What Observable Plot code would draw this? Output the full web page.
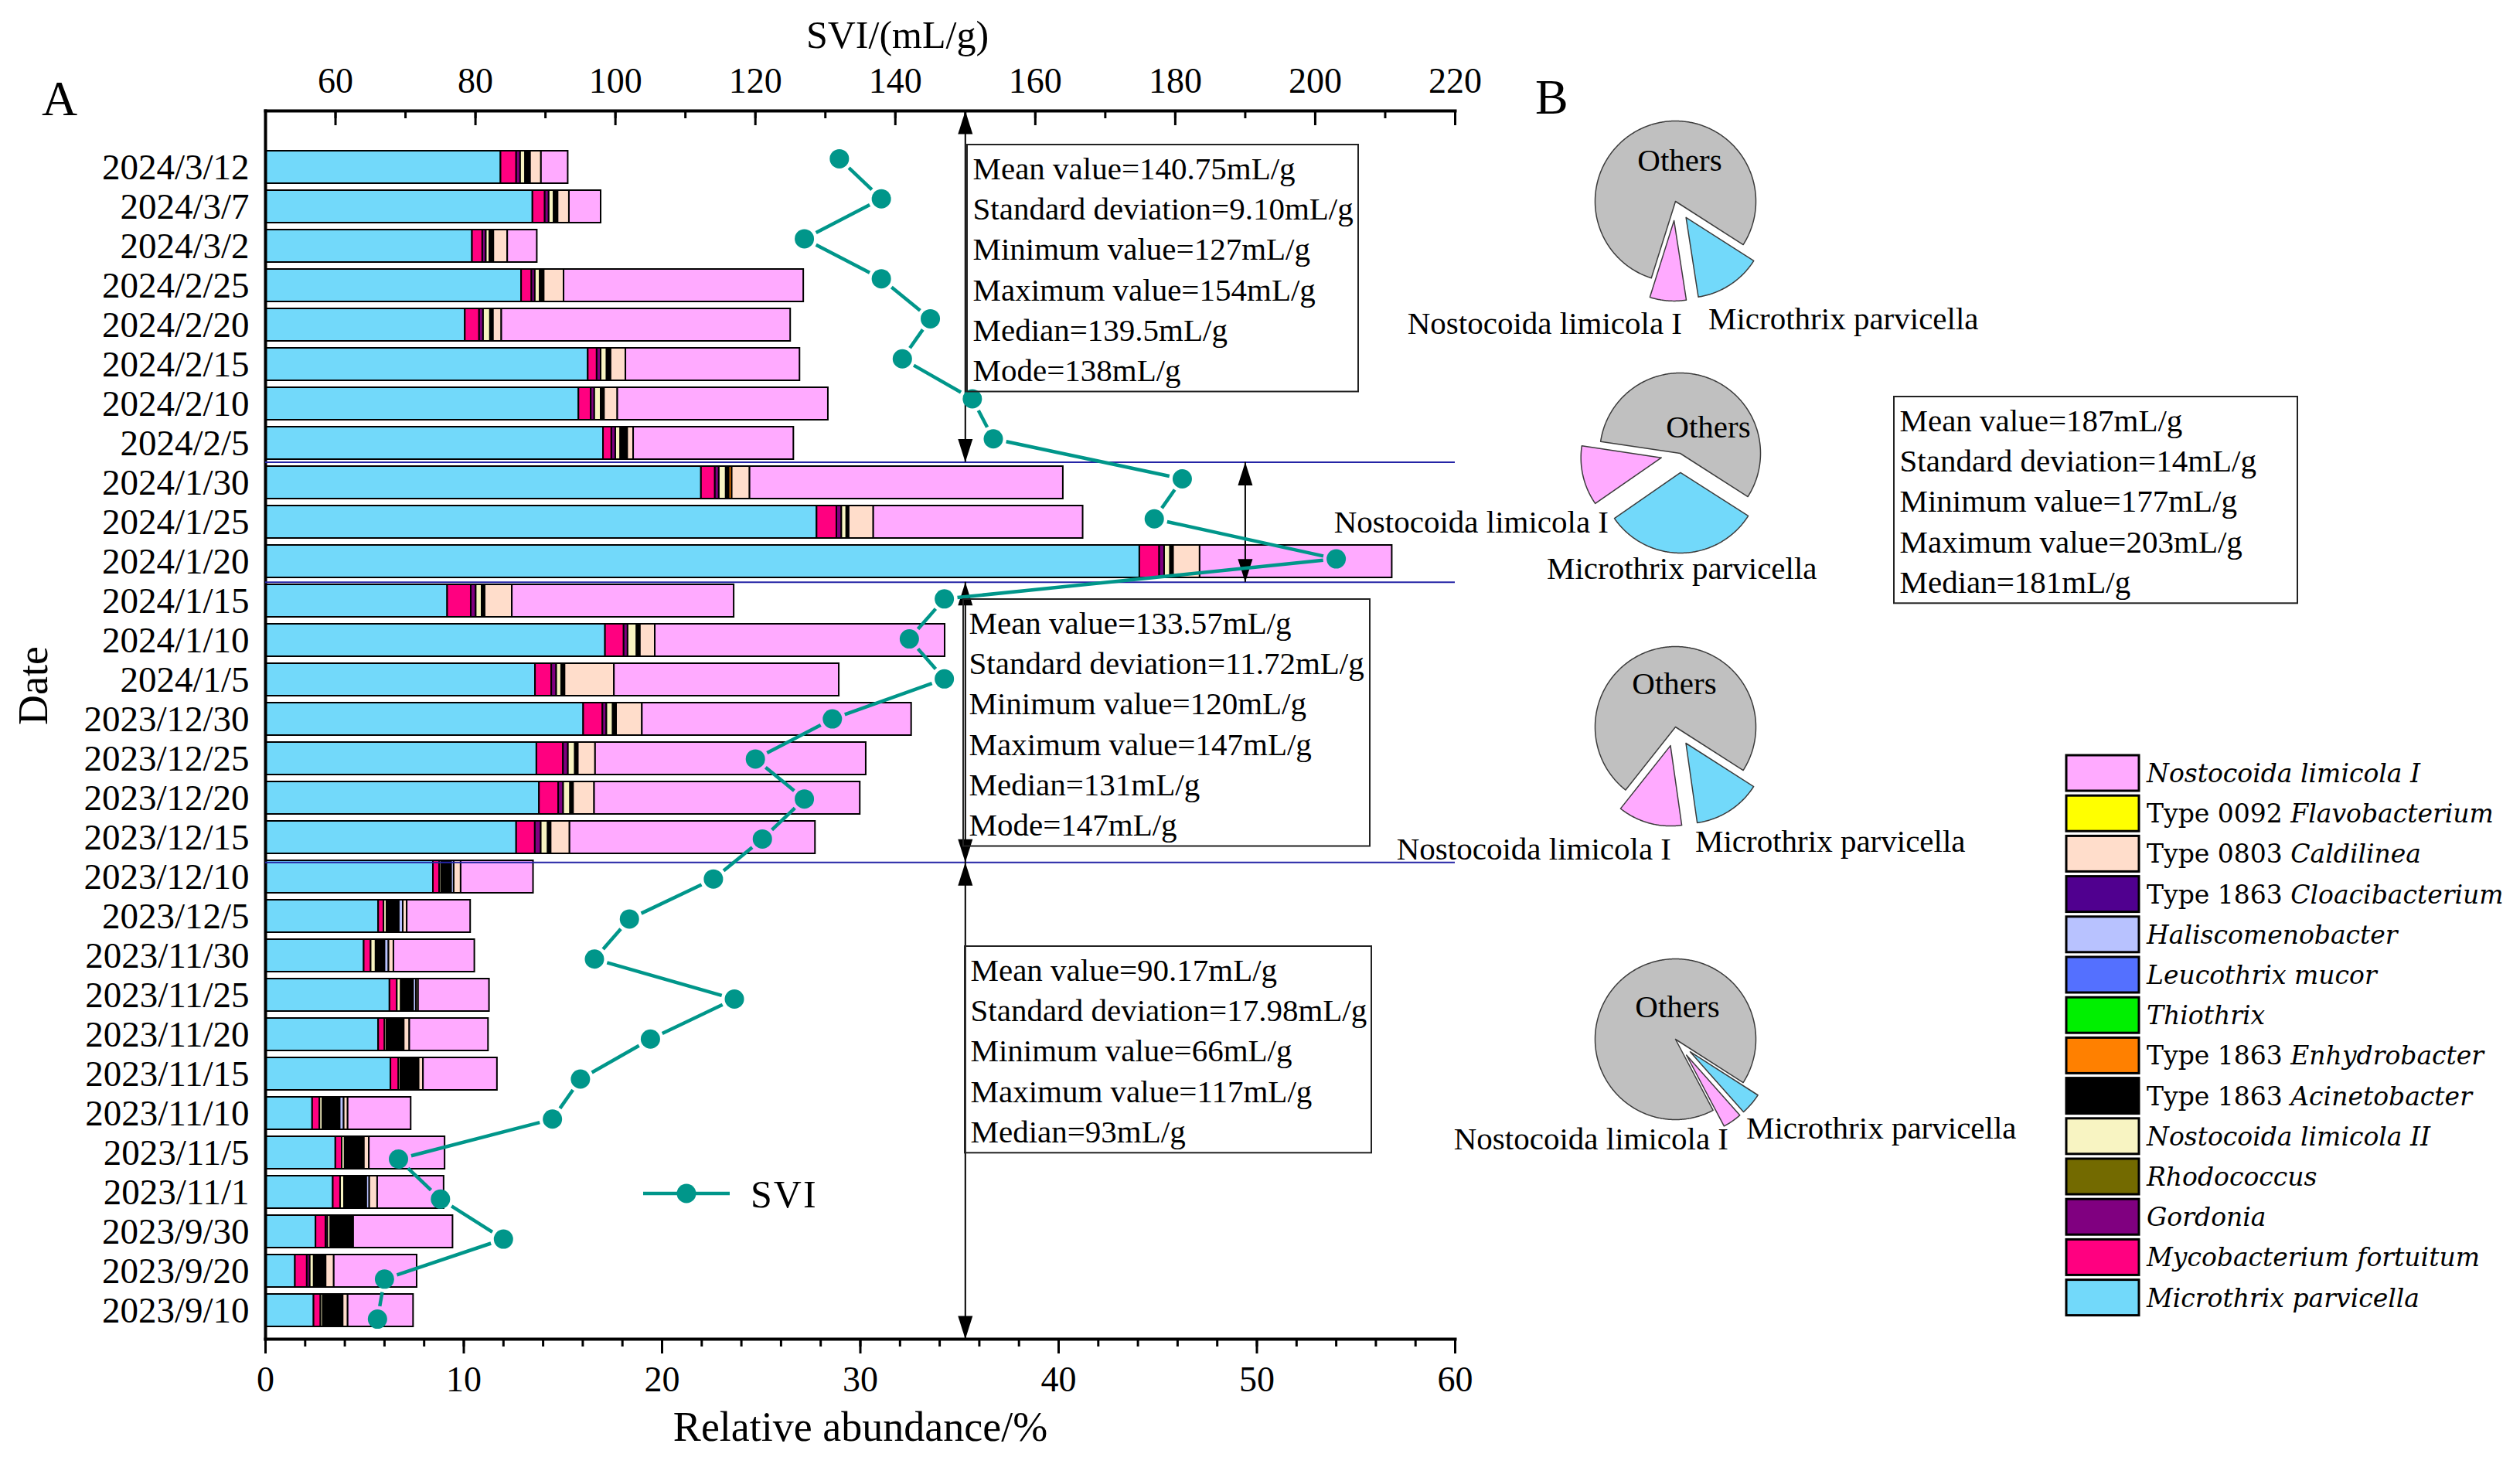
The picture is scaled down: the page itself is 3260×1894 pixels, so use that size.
<!DOCTYPE html>
<html>
<head>
<meta charset="utf-8">
<script src="https://cdn.jsdelivr.net/npm/d3@7"></script>
<script src="https://cdn.jsdelivr.net/npm/@observablehq/plot@0.6"></script>
<style>
  html, body { margin: 0; padding: 0; background: #fff; }
  #fig { position: relative; width: 3260px; height: 1894px; overflow: hidden; background: #fff; }
  #fig > svg { position: absolute; }
</style>
</head>
<body>
<div id="fig"></div>
<script>
// ------------------------------------------------------------------ data
const dates = ["2024/3/12","2024/3/7","2024/3/2","2024/2/25","2024/2/20","2024/2/15","2024/2/10","2024/2/5",
  "2024/1/30","2024/1/25","2024/1/20","2024/1/15","2024/1/10","2024/1/5","2023/12/30","2023/12/25","2023/12/20",
  "2023/12/15","2023/12/10","2023/12/5","2023/11/30","2023/11/25","2023/11/20","2023/11/15","2023/11/10",
  "2023/11/5","2023/11/1","2023/9/30","2023/9/20","2023/9/10"];

const microthrix     = [11.87,13.48,10.43,12.91,10.07,16.27,15.80,17.04,21.98,27.81,44.09,9.18,17.14,13.61,16.04,13.68,13.81,12.66,8.46,5.70,4.97,6.27,5.70,6.32,2.37,3.54,3.41,2.54,1.50,2.44];
const mycobacterium  = [0.79,0.62,0.52,0.52,0.72,0.45,0.62,0.42,0.70,1.00,1.00,1.19,0.94,0.82,0.97,1.34,0.97,0.94,0.32,0.27,0.35,0.37,0.32,0.40,0.37,0.32,0.37,0.50,0.60,0.35];
const gordonia       = [0.20,0.20,0.18,0.17,0.20,0.20,0.18,0.20,0.20,0.25,0.25,0.25,0.20,0.25,0.20,0.25,0.25,0.30,0,0,0,0,0,0,0,0,0,0.10,0.15,0];
const rhodococcus    = [0,0,0,0,0,0,0,0,0,0,0,0,0,0,0,0,0,0,0,0,0,0,0,0,0,0,0,0,0,0];
const nostocoidaII   = [0.25,0.25,0.18,0.25,0.35,0.30,0.32,0.25,0.35,0.25,0.30,0.30,0.45,0.25,0.32,0.35,0.35,0.35,0.10,0.15,0.25,0.20,0.10,0.10,0.15,0.15,0.20,0.15,0.20,0.12];
const acinetobacter  = [0.25,0.20,0.20,0.20,0.15,0.20,0.17,0.35,0.15,0.12,0.15,0.15,0.17,0.17,0.17,0.15,0.15,0.15,0.50,0.62,0.45,0.62,0.87,0.92,0.87,0.97,1.12,1.15,0.60,1.00];
const enhydrobacter  = [0,0,0,0,0,0,0,0,0.15,0,0,0,0,0,0,0,0,0,0,0,0,0,0,0,0,0,0,0,0,0];
const thiothrix      = [0,0,0,0,0,0,0,0,0,0,0,0,0,0,0,0,0,0,0,0,0,0,0,0,0,0,0,0,0,0];
const leucothrix     = [0,0,0,0,0,0,0,0,0,0,0,0,0,0,0,0,0,0,0,0,0,0,0,0,0,0,0,0,0,0];
const haliscomenobacter = [0,0,0,0,0,0,0,0,0,0,0,0,0,0,0,0,0,0,0.13,0.20,0.20,0.15,0,0,0.20,0,0.15,0,0,0];
const cloacibacterium = [0,0,0,0,0,0,0,0,0,0,0,0,0,0,0,0,0,0,0,0,0,0,0,0,0,0,0,0,0,0];
const caldilinea     = [0.55,0.57,0.70,1.00,0.42,0.75,0.67,0.30,0.90,1.24,1.34,1.37,0.75,2.49,1.30,0.87,1.06,0.95,0.35,0.20,0.25,0.10,0.28,0.22,0.20,0.25,0.40,0,0.41,0.25];
const flavobacterium = [0,0,0,0,0,0,0,0,0,0,0,0,0,0,0,0,0,0,0,0,0,0,0,0,0,0,0,0,0,0];
const nostocoidaI    = [1.35,1.60,1.49,12.09,14.57,8.78,10.62,8.08,15.80,10.56,9.69,11.19,14.62,11.34,13.58,13.65,13.40,12.38,3.65,3.20,4.08,3.58,3.97,3.73,3.18,3.82,3.35,5.01,4.18,3.30];

const svi = [132,138,127,138,145,141,151,154,181,177,203,147,142,147,131,120,127,121,114,102,97,117,105,95,91,69,75,84,67,66];

// stacking order left -> right (legend lists them in reverse)
const speciesNames = ["Microthrix parvicella","Mycobacterium fortuitum","Gordonia","Rhodococcus","Nostocoida limicola II",
  "Type 1863 Acinetobacter","Type 1863 Enhydrobacter","Thiothrix","Leucothrix mucor","Haliscomenobacter",
  "Type 1863 Cloacibacterium","Type 0803 Caldilinea","Type 0092 Flavobacterium","Nostocoida limicola I"];
const speciesColors = ["#72D9FA","#FF0080","#800080","#736A00","#F8F4C2","#000000","#FF8000","#00F000","#5470FF",
  "#B8C2FF","#50008F","#FFDDCB","#FFFF00","#FFAAFF"];
const speciesSeries = [microthrix, mycobacterium, gordonia, rhodococcus, nostocoidaII, acinetobacter, enhydrobacter,
  thiothrix, leucothrix, haliscomenobacter, cloacibacterium, caldilinea, flavobacterium, nostocoidaI];

const abundanceTicks = [0,10,20,30,40,50,60];
const abundanceMinorTicks = d3.range(0, 61, 2);
const sviTicks = [60,80,100,120,140,160,180,200,220];
const sviMinorTicks = d3.range(50, 221, 10);

// pies: mean relative abundance (%) in each period
const pieMicrothrix  = [13.5, 31.3, 13.7, 4.4];
const pieNostocoidaI = [7.3, 12.0, 12.9, 3.8];
const pieOthers      = [79.2, 56.7, 73.4, 91.8];

const statsPeriod1 = ["Mean value=140.75mL/g","Standard deviation=9.10mL/g","Minimum value=127mL/g","Maximum value=154mL/g","Median=139.5mL/g","Mode=138mL/g"];
const statsPeriod2 = ["Mean value=187mL/g","Standard deviation=14mL/g","Minimum value=177mL/g","Maximum value=203mL/g","Median=181mL/g"];
const statsPeriod3 = ["Mean value=133.57mL/g","Standard deviation=11.72mL/g","Minimum value=120mL/g","Maximum value=147mL/g","Median=131mL/g","Mode=147mL/g"];
const statsPeriod4 = ["Mean value=90.17mL/g","Standard deviation=17.98mL/g","Minimum value=66mL/g","Maximum value=117mL/g","Median=93mL/g"];

// ------------------------------------------------------------------ layout
const FIG_H = 1894, PLOT_W = 1900;
const FRAME = {top: 143, bottom: 1732, left: 343, right: 1882};
const BAND_RANGE = [179, 1732];
const PAD_IN = 0.17, PAD_OUT = 0.085;
const FONT = "'Liberation Serif', 'Times New Roman', serif";
const TEAL = "#00968A";
const plotStyle = `font-family: ${FONT}; font-size: 46px; color: black; background: transparent; overflow: visible; position: absolute; left: 0; top: 0; max-width: none;`;
const fig = document.getElementById("fig");

const tidy = [];
dates.forEach((d, i) => speciesSeries.forEach((arr, s) => {
  if (arr[i] > 0) tidy.push({date: d, species: speciesNames[s], value: arr[i]});
}));

// ------------------------------------------------------------------ bars
const barsPlot = Plot.plot({
  width: PLOT_W, height: FIG_H,
  marginTop: FRAME.top, marginBottom: FIG_H - FRAME.bottom, marginLeft: FRAME.left, marginRight: PLOT_W - FRAME.right,
  style: plotStyle,
  x: {domain: [0, 60]},
  y: {type: "band", domain: dates, range: BAND_RANGE, paddingInner: PAD_IN, paddingOuter: PAD_OUT},
  color: {domain: speciesNames, range: speciesColors},
  marks: [
    Plot.barX(tidy, {x: "value", y: "date", fill: "species", stroke: "black", strokeWidth: 2}),
    Plot.axisX(abundanceMinorTicks, {anchor: "bottom", tickSize: 10, strokeWidth: 3, tickFormat: () => "", label: null}),
    Plot.axisX(abundanceTicks, {anchor: "bottom", tickSize: 19, strokeWidth: 3, tickPadding: 16, label: null}),
    Plot.axisY(dates, {anchor: "left", tickSize: 0, tickPadding: 21, fontSize: 47, label: null}),
    Plot.frame({anchor: "left", strokeWidth: 4}),
    Plot.frame({anchor: "bottom", strokeWidth: 4}),
    Plot.text(["Relative abundance/%"], {text: d => d, frameAnchor: "bottom", lineAnchor: "middle", dy: 114, fontSize: 54}),
    Plot.text(["Date"], {text: d => d, frameAnchor: "left", lineAnchor: "middle", dx: -300, rotate: -90, fontSize: 54})
  ]
});
fig.appendChild(barsPlot);

// ------------------------------------------------------------------ SVI overlay (second x scale)
const nRows = dates.length;
const step = (BAND_RANGE[1] - BAND_RANGE[0]) / (nRows - PAD_IN + 2 * PAD_OUT);
const c0 = BAND_RANGE[0] + PAD_OUT * step + (1 - PAD_IN) * step / 2;
const halfBand = (1 - PAD_IN) / 2;
const idxOfPx = px => (px - c0) / step;
const topIdx = idxOfPx(FRAME.top), bottomIdx = idxOfPx(FRAME.bottom);
const periodStarts = [8, 11, 18];
const sepIdx = periodStarts.map(r => r - halfBand);
const arrows = [
  {x: 150, y1: topIdx, y2: sepIdx[0]},
  {x: 190, y1: sepIdx[0], y2: sepIdx[1]},
  {x: 150, y1: sepIdx[1], y2: sepIdx[2]},
  {x: 150, y1: sepIdx[2], y2: bottomIdx}
];
const headUp = {draw(ctx) { ctx.moveTo(0, 0); ctx.lineTo(9.5, 30); ctx.lineTo(-9.5, 30); ctx.closePath(); }};
const headDown = {draw(ctx) { ctx.moveTo(0, 0); ctx.lineTo(9.5, -30); ctx.lineTo(-9.5, -30); ctx.closePath(); }};
const sviRows = svi.map((v, i) => ({i, svi: v}));
const sviSegments = d3.pairs(sviRows).map(([a, b]) => ({x1: a.svi, y1: a.i, x2: b.svi, y2: b.i}));

const sviPlot = Plot.plot({
  width: PLOT_W, height: FIG_H,
  marginTop: FRAME.top, marginBottom: FIG_H - FRAME.bottom, marginLeft: FRAME.left, marginRight: PLOT_W - FRAME.right,
  style: plotStyle,
  x: {domain: [50, 220]},
  y: {domain: [0, nRows - 1], range: [c0, c0 + (nRows - 1) * step], axis: null},
  marks: [
    Plot.ruleY(sepIdx, {y: d => d, stroke: "#2424A6", strokeWidth: 2}),
    Plot.ruleX(arrows, {x: "x", y1: "y1", y2: "y2", stroke: "black", strokeWidth: 2}),
    Plot.dot(arrows, {x: "x", y: "y1", symbol: headUp, r: 10, fill: "black", stroke: "none"}),
    Plot.dot(arrows, {x: "x", y: "y2", symbol: headDown, r: 10, fill: "black", stroke: "none"}),
    Plot.arrow(sviSegments, {x1: "x1", y1: "y1", x2: "x2", y2: "y2", insetStart: 17, insetEnd: 17, headLength: 0,
      stroke: TEAL, strokeWidth: 4.5, strokeLinecap: "butt"}),
    Plot.dot(sviRows, {x: "svi", y: "i", r: 12.5, fill: TEAL, stroke: "none"}),
    Plot.axisX(sviMinorTicks, {anchor: "top", tickSize: 9, dy: 9, strokeWidth: 3, tickFormat: () => "", label: null}),
    Plot.axisX(sviTicks, {anchor: "top", tickSize: 18, dy: 18, strokeWidth: 3, tickFormat: () => "", label: null}),
    Plot.axisX(sviTicks, {anchor: "top", tickSize: 0, tickPadding: 24, label: null}),
    Plot.frame({anchor: "top", strokeWidth: 4}),
    Plot.text(["SVI/(mL/g)"], {text: d => d, frameAnchor: "top", lineAnchor: "middle", dx: 48, dy: -98, fontSize: 50})
  ]
});
fig.appendChild(sviPlot);

// ------------------------------------------------------------------ pies
const PIE_R_PX = 104, PIE_BOX = 300, PIE_START = 122.6 * Math.PI / 180;
const PIE_EXPLODE = [0.24, 0.24, 0];
const pieCenters = [[2167, 260], [2173, 586], [2167, 940], [2167, 1344]];
const pieColors = [speciesColors[0], speciesColors[13], "#C0C0C0"];
pieCenters.forEach(([cx, cy], k) => {
  const vals = [pieMicrothrix[k], pieNostocoidaI[k], pieOthers[k]];
  const arcs = d3.pie().sort(null).startAngle(PIE_START).endAngle(PIE_START + 2 * Math.PI)(vals);
  const pts = [];
  arcs.forEach((a, j) => {
    const mid = (a.startAngle + a.endAngle) / 2;
    const ox = PIE_EXPLODE[j] * Math.sin(mid), oy = PIE_EXPLODE[j] * Math.cos(mid);
    const n = Math.max(2, Math.ceil((a.endAngle - a.startAngle) / 0.01));
    pts.push({s: j, x: ox, y: oy});
    for (let t = 0; t <= n; t++) {
      const ang = a.startAngle + (a.endAngle - a.startAngle) * t / n;
      pts.push({s: j, x: ox + Math.sin(ang), y: oy + Math.cos(ang)});
    }
    pts.push({s: j, x: ox, y: oy});
  });
  const R = PIE_BOX / 2 / PIE_R_PX;
  const p = Plot.plot({
    width: PIE_BOX, height: PIE_BOX, margin: 0,
    style: `background: transparent; overflow: visible; position: absolute; left: ${cx - PIE_BOX / 2}px; top: ${cy - PIE_BOX / 2}px; max-width: none;`,
    x: {domain: [-R, R], axis: null},
    y: {domain: [-R, R], axis: null},
    color: {type: "identity"},
    marks: [
      Plot.line(pts, {x: "x", y: "y", z: "s", fill: d => pieColors[d.s], stroke: "#3c3c3c", strokeWidth: 1.5, strokeLinejoin: "round"})
    ]
  });
  fig.appendChild(p);
});

// ------------------------------------------------------------------ annotations, stats boxes, legend
const ann = d3.select(fig).append("svg")
  .attr("width", 3260).attr("height", 1894)
  .style("left", "0px").style("top", "0px")
  .style("font-family", FONT);

function txt(x, y, s, size, anchor = "start") {
  return ann.append("text").attr("x", x).attr("y", y).attr("font-size", size)
    .attr("text-anchor", anchor).attr("fill", "black").text(s);
}
txt(54, 149, "A", 64);
txt(1986, 147, "B", 64);

// stats boxes
const boxes = [
  {lines: statsPeriod1, x: 1251, y: 187, w: 506},
  {lines: statsPeriod2, x: 2450, y: 513, w: 522},
  {lines: statsPeriod3, x: 1246, y: 775, w: 526},
  {lines: statsPeriod4, x: 1248, y: 1224, w: 526}
];
const LINE_H = 52.2;
boxes.forEach(b => {
  const h = 45 + (b.lines.length - 1) * LINE_H + 13.5;
  ann.append("rect").attr("x", b.x).attr("y", b.y).attr("width", b.w).attr("height", h)
    .attr("fill", "none").attr("stroke", "#222").attr("stroke-width", 2);
  b.lines.forEach((l, j) => txt(b.x + 7.5, b.y + 45 + j * LINE_H, l, 41));
});

// pie labels
const pieLabelPos = [
  {others: [2173, 221], nl: [2176, 432], mp: [2210, 426]},
  {others: [2210, 566], nl: [2081, 689], mp: [2001, 749]},
  {others: [2166, 898], nl: [2162, 1112], mp: [2193, 1102]},
  {others: [2170, 1316], nl: [2236, 1487], mp: [2259, 1473]}
];
pieLabelPos.forEach(p => {
  txt(p.others[0], p.others[1], "Others", 41, "middle");
  txt(p.nl[0], p.nl[1], "Nostocoida limicola I", 41, "end");
  txt(p.mp[0], p.mp[1], "Microthrix parvicella", 41, "start");
});

// SVI legend
ann.append("line").attr("x1", 832).attr("x2", 944).attr("y1", 1544).attr("y2", 1544)
  .attr("stroke", TEAL).attr("stroke-width", 4.5);
ann.append("circle").attr("cx", 888).attr("cy", 1544).attr("r", 12.5).attr("fill", TEAL);
txt(971, 1562, "SVI", 50).attr("letter-spacing", 2);

// species legend (top to bottom = reverse stacking order)
const LEG = {x: 2673, y: 977, w: 94, h: 46, step: 52.2, textX: 2777};
speciesNames.slice().reverse().forEach((name, k) => {
  const color = speciesColors[speciesNames.indexOf(name)];
  const y = LEG.y + k * LEG.step;
  ann.append("rect").attr("x", LEG.x).attr("y", y).attr("width", LEG.w).attr("height", LEG.h)
    .attr("fill", color).attr("stroke", "black").attr("stroke-width", 3);
  const t = ann.append("text").attr("x", LEG.textX).attr("y", y + LEG.h / 2 + 12)
    .attr("font-size", 33).attr("font-family", "'DejaVu Serif', serif").attr("fill", "black");
  const m = name.match(/^(Type \d+ )(.*)$/);
  if (m) {
    t.append("tspan").text(m[1]);
    t.append("tspan").attr("font-style", "italic").text(m[2]);
  } else {
    t.append("tspan").attr("font-style", "italic").text(name);
  }
});
</script>
</body>
</html>
